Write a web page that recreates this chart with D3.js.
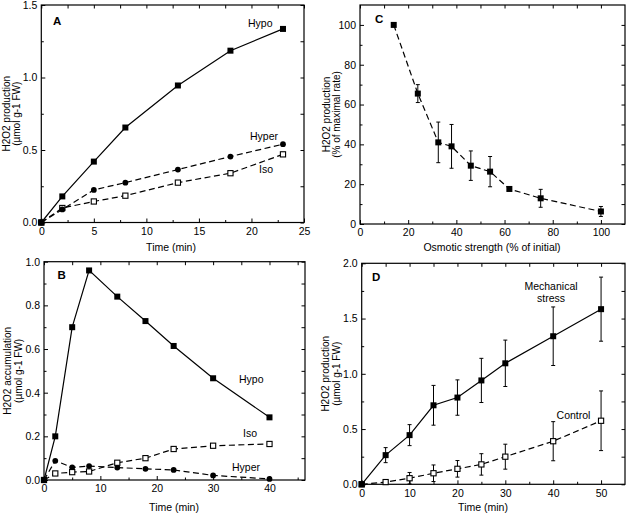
<!DOCTYPE html>
<html>
<head>
<meta charset="utf-8">
<script src="https://cdn.jsdelivr.net/npm/d3@7"></script>
<style>
  body { margin: 0; background: #fff; }
  svg { font-family: "Liberation Sans", Arial, Helvetica, sans-serif; }
  .tick text { font-size: 10.5px; fill: #000; }
  .tick line { stroke: #000; }
</style>
</head>
<body>
<div id="chart"></div>
<script>
// Panel A - H2O2 production vs time
var timeA = [0, 2, 5, 8, 13, 18, 23];
var hypoA = [0, 0.18, 0.42, 0.655, 0.945, 1.185, 1.335];
var hyperA = [0, 0.09, 0.225, 0.275, 0.365, 0.455, 0.54];
var isoA = [0, 0.1, 0.145, 0.185, 0.275, 0.34, 0.47];

// Panel B - H2O2 accumulation vs time
var timeB = [0, 2, 5, 8, 13, 18, 23, 30, 40];
var hypoB = [0, 0.2, 0.7, 0.96, 0.84, 0.728, 0.614, 0.466, 0.287];
var isoB = [0, 0.03, 0.036, 0.039, 0.079, 0.1, 0.142, 0.157, 0.165];
var hyperB = [0, 0.088, 0.058, 0.064, 0.057, 0.051, 0.046, 0.021, 0.005];

// Panel C - rate vs osmotic strength (with error)
var osmC = [14, 24, 32.5, 38, 46, 54, 62, 75, 100];
var rateC = [100, 65.5, 41, 39, 29.3, 26.3, 17.6, 12.9, 6.3];
var errC = [0, 4.5, 10.2, 11, 7.4, 7.6, 0, 4.5, 2.5];

// Panel D - mechanical stress vs control
var timeD = [0, 5, 10, 15, 20, 25, 30, 40, 50];
var mechD = [0, 0.264, 0.445, 0.715, 0.785, 0.94, 1.095, 1.34, 1.585];
var mechErrD = [0, 0.068, 0.095, 0.18, 0.16, 0.2, 0.21, 0.265, 0.29];
var ctrlD = [0, 0.02, 0.055, 0.1, 0.14, 0.18, 0.25, 0.39, 0.575];
var ctrlErrD = [0, 0, 0.052, 0.075, 0.075, 0.097, 0.113, 0.177, 0.27];

// Tick labels
var xTicksA = [0, 5, 10, 15, 20, 25];
var yTicksA = [0, 0.5, 1.0, 1.5];
var xTicksB = [0, 10, 20, 30, 40];
var yTicksB = [0, 0.2, 0.4, 0.6, 0.8, 1.0];
var xTicksC = [0, 20, 40, 60, 80, 100];
var yTicksC = [0, 20, 40, 60, 80, 100];
var xTicksD = [0, 10, 20, 30, 40, 50];
var yTicksD = [0, 0.5, 1.0, 1.5, 2.0];

var w = 630;
var h = 517;

var svg = d3
  .select("#chart")
  .append("svg")
  .attr("width", w)
  .attr("height", h);

svg.append("rect").attr("width", w).attr("height", h).attr("fill", "#fff");

function pts(xs, ys, es) {
  return xs.map(function (d, i) {
    return { x: d, y: ys[i], e: es ? es[i] : 0 };
  });
}

function noDomain(sel) {
  sel.select(".domain").remove();
}

// Draws frame, inward ticks on all four sides and the labels
function makePanel(p) {
  var x = d3.scaleLinear().domain(p.xDomain).range([p.left, p.right]);
  var y = d3.scaleLinear().domain(p.yDomain).range([p.bottom, p.top]);
  var g = svg.append("g");

  var fx = d3.format(p.xFmt);
  var fy = d3.format(p.yFmt);

  // major + minor ticks, bottom/top
  g.append("g")
    .attr("transform", "translate(0," + p.bottom + ")")
    .call(d3.axisBottom(x).tickValues(p.xTicks).tickFormat(fx).tickSize(-4).tickPadding(5))
    .call(noDomain);
  g.append("g")
    .attr("transform", "translate(0," + p.bottom + ")")
    .call(d3.axisBottom(x).tickValues(p.xMinor).tickFormat("").tickSize(-2.5))
    .call(noDomain);
  g.append("g")
    .attr("transform", "translate(0," + p.top + ")")
    .call(d3.axisTop(x).tickValues(p.xTicks.concat(p.xMinor)).tickFormat("").tickSize(-3.5))
    .call(noDomain);

  // left/right
  g.append("g")
    .attr("transform", "translate(" + p.left + ",0)")
    .call(d3.axisLeft(y).tickValues(p.yTicks).tickFormat(fy).tickSize(-4).tickPadding(4))
    .call(noDomain);
  g.append("g")
    .attr("transform", "translate(" + p.left + ",0)")
    .call(d3.axisLeft(y).tickValues(p.yMinor).tickFormat("").tickSize(-2.5))
    .call(noDomain);
  g.append("g")
    .attr("transform", "translate(" + p.right + ",0)")
    .call(d3.axisRight(y).tickValues(p.yTicks.concat(p.yMinor)).tickFormat("").tickSize(-3.5))
    .call(noDomain);

  g.append("rect")
    .attr("x", p.left)
    .attr("y", p.top)
    .attr("width", p.right - p.left)
    .attr("height", p.bottom - p.top)
    .attr("fill", "none")
    .attr("stroke", "#000")
    .attr("stroke-width", 1.2);

  // panel letter
  g.append("text")
    .attr("x", p.letterX)
    .attr("y", p.letterY)
    .attr("font-size", 11.5)
    .attr("font-weight", "bold")
    .text(p.letter);

  // x label
  g.append("text")
    .attr("x", p.xLabelX)
    .attr("y", p.xLabelY)
    .attr("text-anchor", "middle")
    .attr("font-size", 10.5)
    .text(p.xLabel);

  // y label, two lines
  p.yLabel.forEach(function (t, i) {
    g.append("text")
      .attr("transform", "translate(" + p.yLabelX[i] + "," + (p.top + p.bottom) / 2 + ") rotate(-90)")
      .attr("text-anchor", "middle")
      .attr("font-size", 10)
      .text(t);
  });

  return { g: g, x: x, y: y };
}

function drawLine(panel, data, dashed) {
  var line = d3
    .line()
    .x(function (d) { return panel.x(d.x); })
    .y(function (d) { return panel.y(d.y); });
  panel.g
    .append("path")
    .datum(data)
    .attr("d", line)
    .attr("fill", "none")
    .attr("stroke", "#000")
    .attr("stroke-width", 1.2)
    .attr("stroke-dasharray", dashed ? "6,3.5" : null);
}

function drawErrors(panel, data) {
  var eb = panel.g.append("g").attr("stroke", "#000").attr("stroke-width", 1);
  data.forEach(function (d) {
    if (!d.e) return;
    var cx = panel.x(d.x);
    var y1 = panel.y(d.y + d.e);
    var y2 = panel.y(d.y - d.e);
    eb.append("line").attr("x1", cx).attr("x2", cx).attr("y1", y1).attr("y2", y2);
    eb.append("line").attr("x1", cx - 2).attr("x2", cx + 2).attr("y1", y1).attr("y2", y1);
    eb.append("line").attr("x1", cx - 2).attr("x2", cx + 2).attr("y1", y2).attr("y2", y2);
  });
}

function drawMarkers(panel, data, kind) {
  if (kind === "circle") {
    panel.g
      .selectAll(null)
      .data(data)
      .enter()
      .append("circle")
      .attr("cx", function (d) { return panel.x(d.x); })
      .attr("cy", function (d) { return panel.y(d.y); })
      .attr("r", 2.9)
      .attr("fill", "#000");
  } else {
    var open = kind === "open";
    var size = open ? 5.2 : 6;
    panel.g
      .selectAll(null)
      .data(data)
      .enter()
      .append("rect")
      .attr("x", function (d) { return panel.x(d.x) - size / 2; })
      .attr("y", function (d) { return panel.y(d.y) - size / 2; })
      .attr("width", size)
      .attr("height", size)
      .attr("fill", open ? "#fff" : "#000")
      .attr("stroke", "#000")
      .attr("stroke-width", open ? 1.1 : 0);
  }
}

function label(panel, txt, x, y, anchor) {
  panel.g
    .append("text")
    .attr("x", x)
    .attr("y", y)
    .attr("font-size", 10.5)
    .attr("text-anchor", anchor || "start")
    .text(txt);
}

// ---- Panel A
var pA = makePanel({
  left: 41.3, right: 304, top: 5, bottom: 222.5,
  xDomain: [0, 25], yDomain: [0, 1.5],
  xTicks: xTicksA, xMinor: d3.range(2.5, 25, 5),
  yTicks: yTicksA, yMinor: d3.range(0.25, 1.5, 0.5),
  xFmt: "d", yFmt: ".1f",
  letter: "A", letterX: 53, letterY: 25,
  xLabel: "Time (min)", xLabelX: 171, xLabelY: 251,
  yLabel: ["H2O2 production", "(\u00b5mol g-1 FW)"], yLabelX: [9.5, 20]
});
drawLine(pA, pts(timeA, isoA), true);
drawLine(pA, pts(timeA, hyperA), true);
drawLine(pA, pts(timeA, hypoA), false);
drawMarkers(pA, pts(timeA, isoA), "open");
drawMarkers(pA, pts(timeA, hyperA), "circle");
drawMarkers(pA, pts(timeA, hypoA), "filled");
label(pA, "Hypo", 248, 27);
label(pA, "Hyper", 250, 140);
label(pA, "Iso", 259, 173);

// ---- Panel B
var pB = makePanel({
  left: 44, right: 305, top: 261.7, bottom: 480,
  xDomain: [0, 46.3], yDomain: [0, 1.0],
  xTicks: xTicksB, xMinor: d3.range(5, 46, 10),
  yTicks: yTicksB, yMinor: d3.range(0.1, 1.0, 0.2),
  xFmt: "d", yFmt: ".1f",
  letter: "B", letterX: 57.5, letterY: 279,
  xLabel: "Time (min)", xLabelX: 174, xLabelY: 511,
  yLabel: ["H2O2 accumulation", "(\u00b5mol g-1 FW)"], yLabelX: [11, 21.5]
});
drawLine(pB, pts(timeB, hyperB), true);
drawLine(pB, pts(timeB, isoB), true);
drawLine(pB, pts(timeB, hypoB), false);
drawMarkers(pB, pts(timeB, hyperB), "circle");
drawMarkers(pB, pts(timeB, isoB), "open");
drawMarkers(pB, pts(timeB, hypoB), "filled");
label(pB, "Hypo", 239, 383);
label(pB, "Iso", 243, 437);
label(pB, "Hyper", 232, 470.7);

// ---- Panel C
var pC = makePanel({
  left: 360, right: 625, top: 5, bottom: 224,
  xDomain: [0, 110], yDomain: [0, 110],
  xTicks: xTicksC, xMinor: d3.range(10, 110, 20),
  yTicks: yTicksC, yMinor: d3.range(10, 110, 20),
  xFmt: "d", yFmt: "d",
  letter: "C", letterX: 375, letterY: 23.3,
  xLabel: "Osmotic strength (% of initial)", xLabelX: 492, xLabelY: 251,
  yLabel: ["H2O2 production", "(% of maximal rate)"], yLabelX: [329.5, 340]
});
drawErrors(pC, pts(osmC, rateC, errC));
drawLine(pC, pts(osmC, rateC), true);
drawMarkers(pC, pts(osmC, rateC), "filled");

// ---- Panel D
var pD = makePanel({
  left: 361.7, right: 625, top: 263.3, bottom: 484.3,
  xDomain: [0, 55], yDomain: [0, 2.0],
  xTicks: xTicksD, xMinor: d3.range(5, 55, 10),
  yTicks: yTicksD, yMinor: d3.range(0.25, 2.0, 0.5),
  xFmt: "d", yFmt: ".1f",
  letter: "D", letterX: 372, letterY: 280.7,
  xLabel: "Time (min)", xLabelX: 483, xLabelY: 511,
  yLabel: ["H2O2 production", "(\u00b5mol g-1 FW)"], yLabelX: [329, 339.5]
});
drawErrors(pD, pts(timeD, ctrlD, ctrlErrD));
drawErrors(pD, pts(timeD, mechD, mechErrD));
drawLine(pD, pts(timeD, ctrlD), true);
drawLine(pD, pts(timeD, mechD), false);
drawMarkers(pD, pts(timeD, ctrlD), "open");
drawMarkers(pD, pts(timeD, mechD), "filled");
label(pD, "Mechanical", 551, 289.5, "middle");
label(pD, "stress", 551, 301.5, "middle");
label(pD, "Control", 573.5, 418.7, "middle");
</script>
</body>
</html>
